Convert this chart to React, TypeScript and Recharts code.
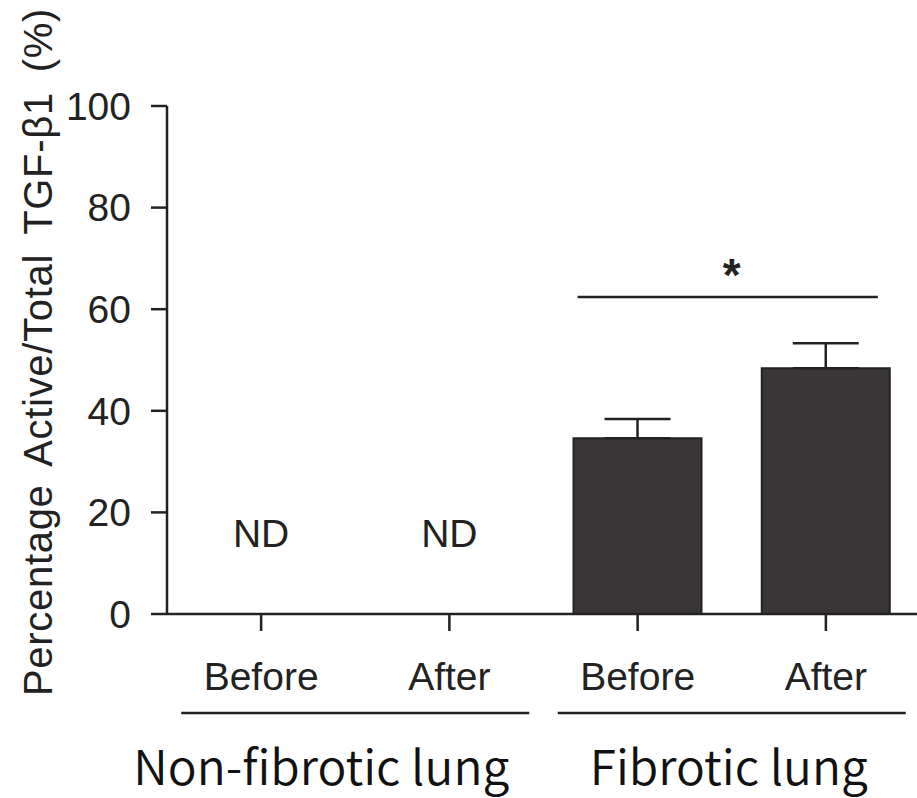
import React from "react";
import {
  BarChart,
  Bar,
  XAxis,
  YAxis,
  ErrorBar,
  ReferenceLine,
  ReferenceDot,
} from "recharts";

// groups of samples, two per lung type
const categories = ["nf-before", "nf-after", "f-before", "f-after"];
const tickLabels = ["Before", "After", "Before", "After"];
const groups = ["Non-fibrotic lung", "Non-fibrotic lung", "Fibrotic lung", "Fibrotic lung"];
// active / total TGF-b1, % (null = not detected)
const activePct: (number | null)[] = [null, null, 34.6, 48.4];
const sem: (number | null)[] = [null, null, 3.8, 4.9];
const yTicks = [0, 20, 40, 60, 80, 100];

const ndCategories = ["nf-before", "nf-after"];
const ND_Y = 16;
const SIG_Y = 62.4;

const data = categories.map((c, i) => ({
  key: c,
  label: tickLabels[i],
  group: groups[i],
  value: activePct[i],
  err: sem[i] == null ? null : [0, sem[i]],
}));

const INK = "#222";
const ARIAL = "'Liberation Sans', Arial, sans-serif";
const FONT = 39;

function GroupTick({ x, y, payload, index }: any) {
  const half = 174;
  // the first group's caption sits a little left of its underline
  const dx = index === 0 ? -34 : -3;
  return (
    <g>
      <line x1={x - half} x2={x + half} y1={y + 19} y2={y + 19} stroke={INK} strokeWidth={2.5} />
      <text
        x={x + dx}
        y={y + 91}
        textAnchor="middle"
        fontFamily="'Noto Sans CJK KR', 'Noto Sans', sans-serif"
        fontSize={48}
        fontWeight={350}
        fill="#111"
      >
        {payload.value}
      </text>
    </g>
  );
}

// significance bar stretched out past the two bar centres
function SigLine({ x1, y1, x2, y2 }: any) {
  return <line x1={x1 - 60} x2={x2 + 52} y1={y1} y2={y2} stroke={INK} strokeWidth={2.5} />;
}

function YTitle({ viewBox }: any) {
  const cx = viewBox.x + 38;
  const cy = viewBox.y + viewBox.height / 2 - 8;
  return (
    <text
      x={cx}
      y={cy}
      transform={`rotate(-90 ${cx} ${cy})`}
      textAnchor="middle"
      dominantBaseline="central"
      fontFamily={ARIAL}
      fontSize={40}
      letterSpacing={0.7}
      wordSpacing={8}
      fill={INK}
    >
      Percentage Active/Total TGF-β1 (%)
    </text>
  );
}

export default function App() {
  return (
    <div
      style={{
        position: "absolute",
        left: 0,
        top: 0,
        width: 917,
        height: 798,
        overflow: "hidden",
        background: "#fff",
      }}
    >
      <BarChart
        width={920}
        height={798}
        data={data}
        margin={{ top: 106, right: 0, bottom: 4, left: 0 }}
      >
        <XAxis
          xAxisId={0}
          dataKey="key"
          tickFormatter={(v: string) => tickLabels[categories.indexOf(v)]}
          tick={{ fontSize: FONT, fill: INK, fontFamily: ARIAL }}
          axisLine={{ stroke: INK, strokeWidth: 2.5 }}
          tickLine={{ stroke: INK, strokeWidth: 2.5 }}
          tickSize={17}
          tickMargin={31}
          height={80}
          interval={0}
        />
        <XAxis
          xAxisId={1}
          dataKey="group"
          allowDuplicatedCategory={false}
          axisLine={false}
          tickLine={false}
          tickSize={0}
          tickMargin={0}
          tick={<GroupTick />}
          height={100}
          interval={0}
        />
        <YAxis
          domain={[0, 100]}
          ticks={yTicks}
          tick={{ fontSize: FONT, fill: INK, fontFamily: ARIAL }}
          axisLine={{ stroke: INK, strokeWidth: 2.5 }}
          tickLine={{ stroke: INK, strokeWidth: 2.5 }}
          tickSize={16}
          tickMargin={20}
          width={167}
          label={<YTitle />}
        />
        <Bar
          xAxisId={0}
          dataKey="value"
          barSize={128}
          fill="#3a3637"
          stroke={INK}
          strokeWidth={2}
          isAnimationActive={false}
        >
          <ErrorBar dataKey="err" width={33} stroke={INK} strokeWidth={2.5} isAnimationActive={false} />
        </Bar>
        {ndCategories.map((c) => (
          <ReferenceDot
            key={c}
            xAxisId={0}
            x={c}
            y={ND_Y}
            r={0}
            stroke="none"
            fill="none"
            label={{ value: "ND", position: "center", fontSize: FONT, fill: INK, fontFamily: ARIAL }}
          />
        ))}
        <ReferenceLine
          xAxisId={0}
          segment={[
            { x: "f-before", y: SIG_Y },
            { x: "f-after", y: SIG_Y },
          ]}
          shape={<SigLine />}
          label={{
            value: "*",
            position: "top",
            offset: 6,
            fontSize: 46,
            fontWeight: "bold",
            fill: INK,
            fontFamily: ARIAL,
          }}
        />
      </BarChart>
    </div>
  );
}
